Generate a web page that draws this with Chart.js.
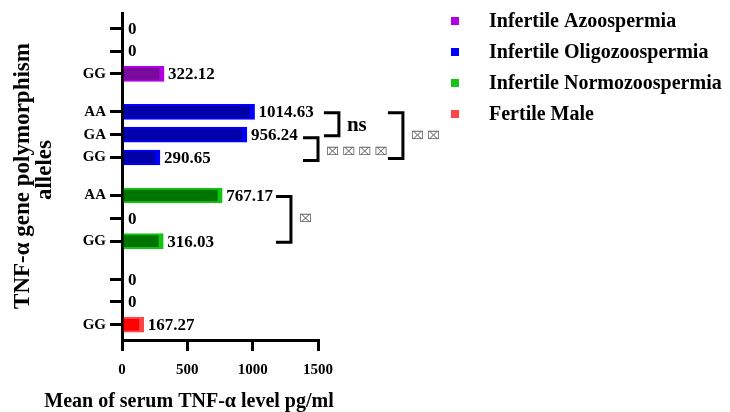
<!DOCTYPE html>
<html>
<head>
<meta charset="utf-8">
<script src="https://cdn.jsdelivr.net/npm/chart.js@4.4.1/dist/chart.umd.min.js"></script>
<style>
  html, body { margin: 0; padding: 0; background: #ffffff; }
  #wrap { width: 730px; height: 412px; position: relative; }
</style>
</head>
<body>
<div id="wrap"><canvas id="c" width="730" height="412"></canvas></div>
<script>
// ---- data ----
const categories = ['Infertile Azoospermia', 'Infertile Oligozoospermia', 'Infertile Normozoospermia', 'Fertile Male'];
const alleles = ['AA', 'GA', 'GG'];
const azoospermia     = [0, 0, 322.12];
const oligozoospermia = [1014.63, 956.24, 290.65];
const normozoospermia = [767.17, 0, 316.03];
const fertileMale     = [0, 0, 167.27];
const xTicks = [0, 500, 1000, 1500];
// significance comparisons: [group, allele] pairs
const comparisons = [
  { group: 1, from: 0, to: 1, label: 'ns',      at: 1660 },
  { group: 1, from: 1, to: 2, label: '⌧ ⌧ ⌧ ⌧', at: 1500 },
  { group: 1, from: 0, to: 2, label: '⌧ ⌧',     at: 2150 },
  { group: 2, from: 0, to: 2, label: '⌧',       at: 1293 }
];

// ---- styling ----
const seriesValues = [azoospermia, oligozoospermia, normozoospermia, fertileMale];
const outerColors = ['#b000e6', '#0000ff', '#14c414', '#ff4545'];
const innerColors = ['#7a0a9c', '#0000a8', '#007400', '#ff0000'];
const SERIF = "'Liberation Serif', 'Times New Roman', serif";
const GROUP_STEP = 11, ALLELE_STEP = 3;
const rowOf = (g, a) => g * GROUP_STEP + a * ALLELE_STEP;

const rowPositions = [];
const rowLabels = {};
seriesValues.forEach((vals, g) => vals.forEach((v, a) => {
  const r = rowOf(g, a);
  rowPositions.push(r);
  rowLabels[r] = v > 0 ? alleles[a] : '';
}));

const datasets = seriesValues.map((vals, g) => ({
  label: categories[g],
  data: vals.map((v, a) => ({ x: v, y: rowOf(g, a) })),
  backgroundColor: innerColors[g],
  borderColor: outerColors[g],
  borderWidth: { top: 2, right: 5, bottom: 2, left: 0 },
  borderSkipped: false,
  barThickness: 15,
  grouped: false
}));

const annotPlugin = {
  id: 'annot',
  afterDraw(chart) {
    const ctx = chart.ctx;
    const xs = chart.scales.x, ys = chart.scales.y;
    ctx.save();
    // value labels
    ctx.fillStyle = '#000';
    ctx.font = 'bold 17px ' + SERIF;
    ctx.textBaseline = 'middle';
    ctx.textAlign = 'left';
    seriesValues.forEach((vals, g) => vals.forEach((v, a) => {
      const x = xs.getPixelForValue(v) + (v > 0 ? 4 : 6);
      const y = ys.getPixelForValue(rowOf(g, a)) + 1;
      ctx.fillText(String(v), x, y);
    }));
    // brackets
    ctx.strokeStyle = '#000';
    ctx.lineWidth = 3;
    comparisons.forEach((c, i) => {
      const xv = xs.getPixelForValue(c.at);
      const off = i === 1 ? 3 : 1;
      const y1 = ys.getPixelForValue(rowOf(c.group, c.from)) + off;
      const y2 = ys.getPixelForValue(rowOf(c.group, c.to)) + off;
      ctx.beginPath();
      ctx.moveTo(xv - 15, y1);
      ctx.lineTo(xv, y1);
      ctx.lineTo(xv, y2);
      ctx.lineTo(xv - 15, y2);
      ctx.stroke();
      if (c.label === 'ns') {
        ctx.font = 'bold 21px ' + SERIF;
        ctx.fillStyle = '#000';
        ctx.fillText(c.label, xv + 8, (y1 + y2) / 2 + 1);
      } else {
        ctx.font = '11px DejaVu Sans';
        ctx.fillStyle = '#666';
        ctx.fillText(c.label, xv + 8, (y1 + y2) / 2 + (i === 1 ? 3 : 0));
      }
    });
    // legend
    ctx.textBaseline = 'middle';
    categories.forEach((name, g) => {
      const y = 21 + g * 31;
      ctx.fillStyle = outerColors[g];
      ctx.fillRect(451, y - 4, 8, 8);
      ctx.fillStyle = '#000';
      ctx.font = 'bold 20px ' + SERIF;
      ctx.fillText(name, 489, y + 1);
    });
    // axis titles
    ctx.fillStyle = '#000';
    ctx.font = 'bold 20px ' + SERIF;
    ctx.textAlign = 'center';
    ctx.textBaseline = 'alphabetic';
    ctx.fillText('Mean of serum TNF-α level pg/ml', 189, 407);
    ctx.save();
    ctx.font = 'bold 23px ' + SERIF;
    ctx.translate(29, 176);
    ctx.rotate(-Math.PI / 2);
    ctx.fillText('TNF-α gene polymorphism', 0, 0);
    ctx.fillText('alleles', 6, 22);
    ctx.restore();
    ctx.restore();
  }
};

new Chart(document.getElementById('c'), {
  type: 'bar',
  data: { datasets },
  options: {
    responsive: false,
    animation: false,
    indexAxis: 'y',
    layout: { padding: { top: 12, right: 412, left: 0, bottom: 0 } },
    plugins: { legend: { display: false }, tooltip: { enabled: false } },
    scales: {
      x: {
        type: 'linear', min: 0, max: 1500, offset: false,
        afterBuildTicks: s => { s.ticks = xTicks.map(v => ({ value: v })); },
        afterFit: s => { s.height = 72; },
        border: { display: true, color: '#000', width: 3 },
        grid: { display: true, offset: false, drawOnChartArea: false, color: '#000', lineWidth: 3, tickLength: 11 },
        ticks: { color: '#000', font: { family: SERIF, size: 15, weight: 'bold' }, padding: 10, maxRotation: 0,
                 callback: v => String(v) }
      },
      y: {
        type: 'linear', min: -2, max: 41, reverse: true, offset: false,
        afterBuildTicks: s => { s.ticks = rowPositions.map(v => ({ value: v })); },
        afterFit: s => { s.width = 122; },
        border: { display: true, color: '#000', width: 3 },
        grid: { display: true, offset: false, drawOnChartArea: false, color: '#000', lineWidth: 3, tickLength: 12 },
        ticks: { color: '#000', font: { family: SERIF, size: 15, weight: 'bold' }, padding: 4,
                 callback: v => rowLabels[v] || '' }
      }
    }
  },
  plugins: [annotPlugin]
});
</script>
</body>
</html>
